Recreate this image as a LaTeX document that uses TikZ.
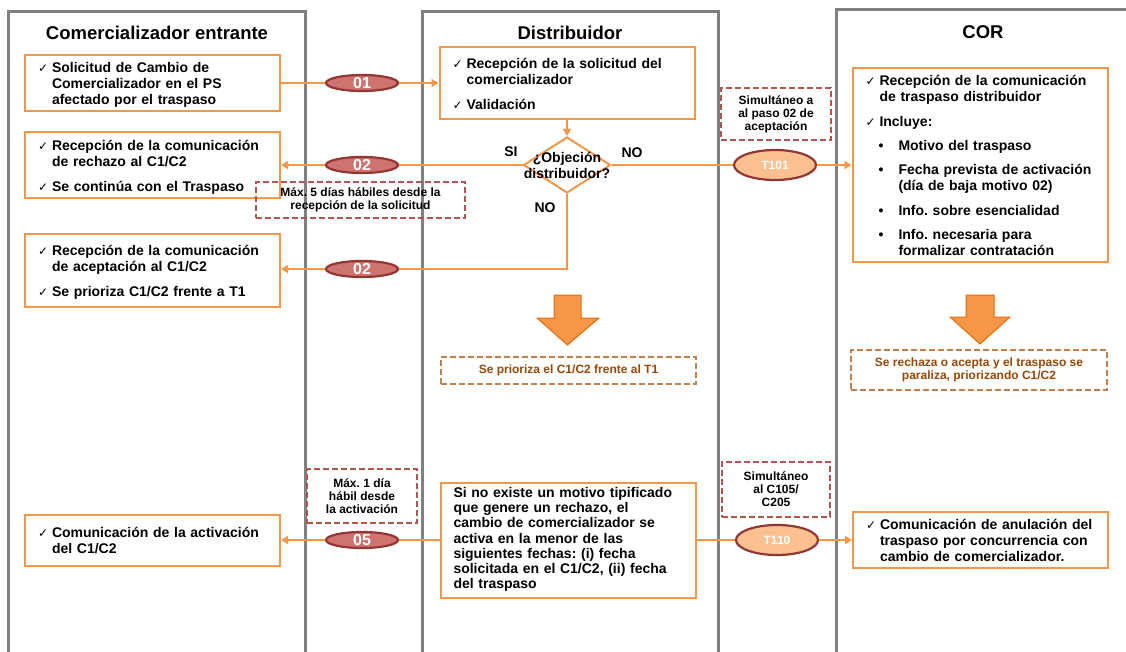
\documentclass[tikz,border=0pt]{standalone}
\usepackage{fontspec}
\setmainfont{Liberation Sans}
\newfontfamily\symfont{DejaVu Sans}
\usetikzlibrary{shapes.geometric,arrows.meta}
\frenchspacing

\definecolor{orng}{HTML}{F79646}
\definecolor{orngdark}{HTML}{E46C0A}
\definecolor{lanegray}{HTML}{808080}
\definecolor{pillfill}{HTML}{CF7371}
\definecolor{pillbrd}{HTML}{943634}
\definecolor{tfill}{HTML}{FAC090}
\definecolor{notered}{HTML}{B85450}
\definecolor{notebrown}{HTML}{C0804A}
\definecolor{textbrown}{HTML}{984807}

\newcommand\bodyfont{\bfseries\fontsize{14}{16}\selectfont}
\newcommand\notefont{\bfseries\fontsize{12}{13}\selectfont}
\newcommand\chkmark{{\symfont\mdseries\fontsize{12}{12}\selectfont ✓}}
\newcommand\itemgap{\par\vspace{8pt}}
\newcommand\chkitem[1]{\par\noindent\makebox[14pt][l]{\chkmark}\begin{tabular}[t]{@{}l@{}}#1\end{tabular}\par}
\newcommand\bulitem[1]{\par\noindent\hspace*{13pt}\makebox[20pt][l]{\textbullet}\begin{tabular}[t]{@{}l@{}}#1\end{tabular}\par}

\begin{document}
\begin{tikzpicture}[x=1pt,y=-1pt,
  lane/.style={draw=lanegray, line width=3pt},
  title/.style={font=\bfseries\fontsize{18.5}{20}\selectfont},
  box/.style={draw=orng, line width=2pt, fill=white, text width=229pt,
              inner xsep=13pt, inner ysep=2pt, font=\bodyfont},
  decision/.style={diamond, draw=orng, line width=2pt, fill=white,
                   minimum width=87pt, minimum height=56pt, inner sep=0pt},
  pill/.style={ellipse, draw=pillbrd, line width=2.2pt, fill=pillfill,
               text=white, font=\bfseries\fontsize{16}{16}\selectfont,
               minimum width=72pt, minimum height=16pt, inner sep=0pt},
  tpill/.style={pill, fill=tfill, font=\bfseries\fontsize{12}{12}\selectfont,
                minimum width=82pt, minimum height=30pt},
  note/.style={draw=notered, dash pattern=on 6pt off 3pt, line width=1.1pt,
               align=center, font=\notefont, inner sep=2pt},
  prio/.style={note, draw=notebrown, text=textbrown},
  flow/.style={draw=orng, line width=1.8pt},
  flowarr/.style={flow, -{Triangle[width=8pt,length=7pt]}},
  fatarr/.style={fill=orng, draw=orngdark, line width=1pt}]
\useasboundingbox (0,0) rectangle (1126,652);
\fill[white] (0,0) rectangle (1126,652);
\clip (0,0) rectangle (1126,652);

% swimlanes
\draw[lane] (8,660) -- (8,12) -- (305,12) -- (305,660);
\draw[lane] (422,660) -- (422,12) -- (718,12) -- (718,660);
\draw[lane] (836,660) -- (836,10) -- (1130,10);

\node[title] (tcom) at (157,33) {Comercializador entrante};
\node[title] (tdis) at (570,33) {Distribuidor};
\node[title] (tcor) at (983,32) {COR};

% comercializador
\node[box, minimum height=54pt] (cm1) at (152.5,83)
  {\chkitem{Solicitud de Cambio de\\Comercializador en el PS\\afectado por el traspaso}};
\node[box, minimum height=61pt] (cm2) at (152.5,165)
  {\chkitem{Recepción de la comunicación\\de rechazo al C1/C2}\itemgap
   \chkitem{Se continúa con el Traspaso}};
\node[box, minimum height=73pt] (cm3) at (152.5,270.5)
  {\chkitem{Recepción de la comunicación\\de aceptación al C1/C2}\itemgap
   \chkitem{Se prioriza C1/C2 frente a T1}};
\node[box, minimum height=51pt] (cm4) at (152.5,540)
  {\chkitem{Comunicación de la activación\\del C1/C2}};

% distribuidor
\node[box, minimum height=72pt] (ds1) at (567,83)
  {\chkitem{Recepción de la solicitud del\\comercializador}\itemgap
   \chkitem{Validación}};
\node[decision] (dec) at (567,165) {};
\node[font=\bodyfont, align=center, inner sep=0pt] (dectxt) at (567,165)
  {¿Objeción\\distribuidor?};
\node[font=\bodyfont] (lsi) at (511,152) {SI};
\node[font=\bodyfont] (lno) at (632,153) {NO};
\node[font=\bodyfont] (lno2) at (545,208) {NO};
\node[box, minimum height=115pt, font=\bfseries\fontsize{14}{15.3}\selectfont] (ds2) at (568,540)
  {\begin{tabular}{@{}l@{}}Si no existe un motivo tipificado\\que genere un rechazo, el\\
   cambio de comercializador se\\activa en la menor de las\\
   siguientes fechas: (i) fecha\\solicitada en el C1/C2, (ii) fecha\\del traspaso\end{tabular}};

% COR
\node[box, minimum height=188pt] (cor1) at (980,165)
  {\chkitem{Recepción de la comunicación\\de traspaso distribuidor}\itemgap
   \chkitem{Incluye:}\itemgap
   \bulitem{Motivo del traspaso}\itemgap
   \bulitem{Fecha prevista de activación\\(día de baja motivo 02)}\itemgap
   \bulitem{Info. sobre esencialidad}\itemgap
   \bulitem{Info. necesaria para\\formalizar contratación}};
\node[box, minimum height=50pt] (cor2) at (980.5,540)
  {\chkitem{Comunicación de anulación del\\traspaso por concurrencia con\\cambio de comercializador.}};

% mensajes
\node[pill] (p01) at (362,83) {01};
\node[pill] (p02a) at (362,165) {02};
\node[pill] (p02b) at (362,269) {02};
\node[pill] (p05) at (362,540) {05};
\node[tpill] (t101) at (775,165) {T101};
\node[tpill] (t110) at (777,540) {T110};

\draw[flow] (cm1) -- (p01);
\draw[flowarr] (p01) -- (ds1);
\draw[flowarr] (ds1) -- (dec);
\draw[flow] (dec) -- (p02a);
\draw[flowarr] (p02a) -- (cm2);
\draw[flow] (dec) -- (t101);
\draw[flowarr] (t101) -- (cor1);
\draw[flow] (dec.south) |- (p02b);
\draw[flowarr] (p02b) -- (p02b -| cm3.east);
\draw[flow] (ds2) -- (p05);
\draw[flowarr] (p05) -- (cm4);
\draw[flow] (ds2) -- (t110);
\draw[flowarr] (t110) -- (cor2);

% plazos
\node[note, minimum width=209pt, minimum height=36pt] (n5) at (360.5,200)
  {Máx. 5 días hábiles desde la\\recepción de la solicitud};
\node[note, minimum width=110pt, minimum height=52pt] (nsim1) at (776,114)
  {Simultáneo a\\al paso 02 de\\aceptación};
\node[note, minimum width=110pt, minimum height=54pt] (nmax1) at (362,496)
  {Máx. 1 día\\hábil desde\\la activación};
\node[note, minimum width=108pt, minimum height=55pt] (nsim2) at (776,489.5)
  {Simultáneo\\al C105/\\C205};

% resultado
\filldraw[fatarr] (554,295) -- (581,295) -- (581,318) -- (599,318) -- (567.5,345)
  -- (537,318) -- (554,318) -- cycle;
\filldraw[fatarr] (966,295) -- (994,295) -- (994,317) -- (1010,317) -- (980,344)
  -- (950,317) -- (966,317) -- cycle;
\node[prio, minimum width=255pt, minimum height=27pt] (prio1) at (568.5,370.5)
  {Se prioriza el C1/C2 frente al T1};
\node[prio, minimum width=256pt, minimum height=40pt] (prio2) at (979,370)
  {Se rechaza o acepta y el traspaso se\\paraliza, priorizando C1/C2};
\end{tikzpicture}
\end{document}
